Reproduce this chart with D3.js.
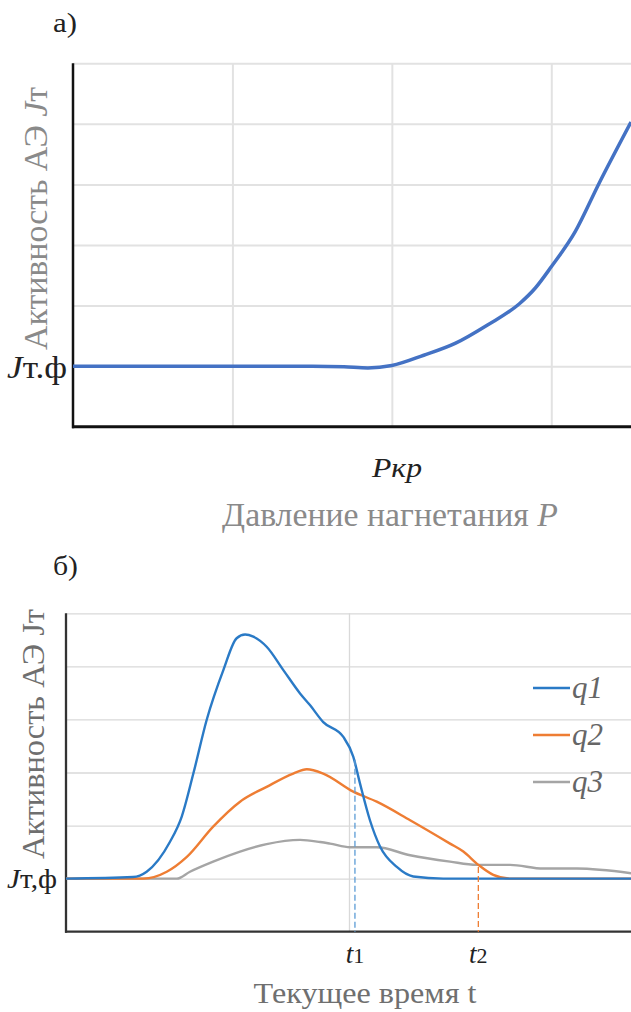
<!DOCTYPE html>
<html><head><meta charset="utf-8">
<script src="https://cdn.jsdelivr.net/npm/d3@7"></script>
<style>html,body{margin:0;padding:0;background:#fff}svg{display:block}</style>
</head><body>
<svg id="c" width="631" height="1012" font-family="Liberation Serif"></svg>
<script>
// ---- Chart a data ----
const aPressure = [0, 0.5, 1, 1.5, 1.7, 1.85, 2.0, 2.2, 2.4, 2.6, 2.8, 2.9, 3.0, 3.15, 3.3, 3.5];
const aActivity = [1, 1, 1, 1, 0.99, 0.97, 1.01, 1.18, 1.38, 1.68, 2.03, 2.29, 2.64, 3.22, 4.02, 5.03];
const aGridX = [1, 2, 3];
const aGridY = [1, 2, 3, 4, 5, 6];

// ---- Chart b data ----
const q1Time = [0, 2.37, 2.85, 3.67, 4.09, 4.5, 4.97, 5.56, 6.03, 6.33, 6.62, 7.09, 7.68, 8.27, 8.62, 9.09, 9.8, 10.15, 10.39, 10.74, 11.1, 11.69, 12.27, 13.33, 20];
const q1Value = [1, 1.03, 1.13, 1.69, 2.17, 2.98, 3.99, 4.93, 5.53, 5.6, 5.56, 5.37, 4.93, 4.49, 4.27, 3.95, 3.67, 3.3, 2.79, 2.1, 1.6, 1.22, 1.04, 1.0, 1.0];
const q2Time = [0, 2.73, 3.56, 4.27, 5.2, 6.15, 7.09, 8.03, 8.51, 9.09, 10.15, 10.98, 12.16, 13.57, 14.04, 14.57, 15.1, 15.69, 20];
const q2Value = [1, 1, 1.13, 1.41, 1.98, 2.45, 2.73, 2.98, 3.06, 2.98, 2.64, 2.45, 2.1, 1.66, 1.51, 1.26, 1.07, 1.0, 1.0];
const q3Time = [0, 3.91, 4.38, 5.2, 6.15, 7.09, 8.27, 8.98, 9.33, 10.04, 10.98, 12.16, 13.57, 14.51, 15.69, 16.87, 18.05, 20];
const q3Value = [1, 1, 1.13, 1.32, 1.51, 1.65, 1.73, 1.69, 1.66, 1.59, 1.59, 1.44, 1.32, 1.26, 1.26, 1.19, 1.19, 1.1];
const seriesNames = ["q1", "q2", "q3"];
const markTimes = [10.21, 14.57];
const markTops = [3.24, 1.22];
const markLabels = ["1", "2"];
const bGridX = [10];
const bGridY = [1, 2, 3, 4, 5, 6];

const FONT = "Liberation Serif";
const svg = d3.select("#c");

// text helper: parts = [[string, italic?], ...]; width = target advance (fitted by mild scale)
function label(g, o) {
  const t = g.append("text").attr("font-family", FONT).attr("font-size", o.size)
    .attr("fill", o.fill).attr("text-anchor", o.anchor || "start");
  o.parts.forEach(p => {
    const s = t.append("tspan").text(p[0]);
    if (p[1]) s.attr("font-style", "italic");
    if (p[2]) s.attr("font-size", p[2]);
  });
  let sc = 1;
  if (o.width) sc = o.width / t.node().getComputedTextLength();
  t.attr("transform", `translate(${o.x},${o.y})${o.rotate ? " rotate(" + o.rotate + ")" : ""} scale(${sc},1)`);
  return t;
}

// ================= Chart a =================
const ax = d3.scaleLinear().domain([0, 3.5]).range([73, 631]);
const ay = d3.scaleLinear().domain([0, 6]).range([426.7, 63.3]);
const ga = svg.append("g");

ga.append("g").attr("transform", `translate(0,${ay(0)})`)
  .call(d3.axisBottom(ax).tickValues(aGridX).tickSize(-(ay(0) - ay(6))).tickFormat(""))
  .call(g => { g.select(".domain").remove(); g.selectAll("line").attr("stroke", "#e2e2e2").attr("stroke-width", 2); });
ga.append("g").attr("transform", `translate(${ax(0)},0)`)
  .call(d3.axisLeft(ay).tickValues(aGridY).tickSize(-(ax(3.5) - ax(0))).tickFormat(""))
  .call(g => { g.select(".domain").remove(); g.selectAll("line").attr("stroke", "#e2e2e2").attr("stroke-width", 2); });

ga.append("line").attr("x1", ax(0)).attr("x2", ax(0)).attr("y1", ay(6)).attr("y2", ay(0) + 1.5)
  .attr("stroke", "#111").attr("stroke-width", 2.5);
ga.append("line").attr("x1", ax(0) - 1).attr("x2", 631).attr("y1", ay(0)).attr("y2", ay(0))
  .attr("stroke", "#111").attr("stroke-width", 3);

const lineA = d3.line().x(d => ax(d[0])).y(d => ay(d[1])).curve(d3.curveMonotoneX);
ga.append("path").datum(aPressure.map((p, i) => [p, aActivity[i]]))
  .attr("d", lineA).attr("fill", "none").attr("stroke", "#4472C4").attr("stroke-width", 3.5);

label(ga, { x: 53, y: 32, size: 28, fill: "#222", width: 24, parts: [["а)"]] });
label(ga, { x: 47, y: (350 + 87) / 2, rotate: -90, anchor: "middle", size: 34.5, fill: "#8a8a8a", width: 263,
  parts: [["Активность АЭ "], ["J", true], ["т"]] });
label(ga, { x: 67, y: ay(1) + 12, anchor: "end", size: 31, fill: "#222", width: 60, parts: [["J", true], ["т.ф"]] });
label(ga, { x: 397, y: 477, anchor: "middle", size: 28, fill: "#222", width: 50, parts: [["Ркр", true]] });
label(ga, { x: 390, y: 526, anchor: "middle", size: 33, fill: "#8a8a8a", width: 336,
  parts: [["Давление нагнетания "], ["P", true]] });

// ================= Chart b =================
const bx = d3.scaleLinear().domain([0, 20]).range([66, 632]);
const by = d3.scaleLinear().domain([0, 6]).range([931.7, 613.3]);
const gb = svg.append("g");

gb.append("g").attr("transform", `translate(0,${by(0)})`)
  .call(d3.axisBottom(bx).tickValues(bGridX).tickSize(-(by(0) - by(6))).tickFormat(""))
  .call(g => { g.select(".domain").remove(); g.selectAll("line").attr("stroke", "#d9d9d9").attr("stroke-width", 1.3); });
gb.append("g").attr("transform", `translate(${bx(0)},0)`)
  .call(d3.axisLeft(by).tickValues(bGridY).tickSize(-(bx(20) - bx(0))).tickFormat(""))
  .call(g => { g.select(".domain").remove(); g.selectAll("line").attr("stroke", "#d9d9d9").attr("stroke-width", 1.3); });

gb.append("line").attr("x1", bx(0)).attr("x2", bx(0)).attr("y1", by(6)).attr("y2", by(0) + 1)
  .attr("stroke", "#333").attr("stroke-width", 2.3);
gb.append("line").attr("x1", bx(0) - 1).attr("x2", 631).attr("y1", by(0)).attr("y2", by(0))
  .attr("stroke", "#333").attr("stroke-width", 2.3);

const colors = ["#2a7ac6", "#ee7d33", "#a5a5a5"];
const lineB = d3.line().x(d => bx(d[0])).y(d => by(d[1])).curve(d3.curveMonotoneX);
const seriesData = [
  q1Time.map((t, i) => [t, q1Value[i]]),
  q2Time.map((t, i) => [t, q2Value[i]]),
  q3Time.map((t, i) => [t, q3Value[i]])
];
[2, 1, 0].forEach(k => {
  gb.append("path").datum(seriesData[k]).attr("d", lineB).attr("fill", "none")
    .attr("stroke", colors[k]).attr("stroke-width", 2.4);
});

const dashColors = ["#5b9bd5", "#ee7d33"];
markTimes.forEach((t, i) => {
  gb.append("line").attr("x1", bx(t)).attr("x2", bx(t)).attr("y1", by(markTops[i])).attr("y2", by(0))
    .attr("stroke", dashColors[i]).attr("stroke-width", 1.3).attr("stroke-dasharray", "6,3");
  label(gb, { x: bx(t), y: 963, anchor: "middle", size: 27, fill: "#222",
    parts: [["t", true], [markLabels[i], false, 22]] });
});

// legend
const legY = [688, 735, 782];
seriesNames.forEach((n, i) => {
  gb.append("line").attr("x1", 533).attr("x2", 570).attr("y1", legY[i]).attr("y2", legY[i])
    .attr("stroke", colors[i]).attr("stroke-width", 2.4);
  label(gb, { x: 572, y: legY[i] + 10, size: 31, fill: "#666", parts: [[n, true]] });
});

label(gb, { x: 53, y: 575, size: 28, fill: "#222", width: 25, parts: [["б)"]] });
label(gb, { x: 44, y: (608 + 860) / 2, rotate: -90, anchor: "middle", size: 32.5, fill: "#6f6f6f", width: 250,
  parts: [["Активность АЭ Jт"]] });
label(gb, { x: 57, y: by(1) + 9, anchor: "end", size: 27, fill: "#222", width: 50, parts: [["J", true], ["т,ф"]] });
label(gb, { x: 365, y: 1003, anchor: "middle", size: 30, fill: "#6f6f6f", width: 223, parts: [["Текущее время t"]] });
</script>
</body></html>
